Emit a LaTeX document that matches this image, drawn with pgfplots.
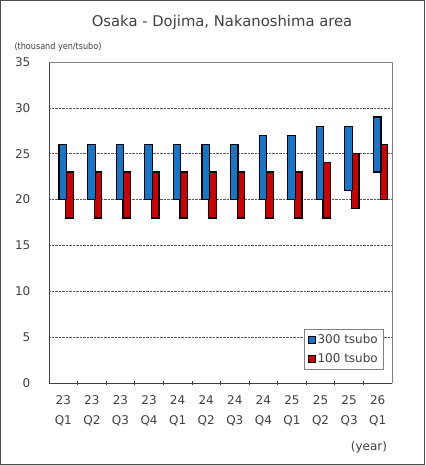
\documentclass[border=0pt]{standalone}
\usepackage{pgfplots}
\pgfplotsset{compat=1.18}
\usepackage{fontspec}
\setmainfont{DejaVu Sans}
\newfontfamily\condfont{DejaVu Sans Condensed}

\definecolor{barblue}{RGB}{24,118,200}
\definecolor{barred}{RGB}{204,0,0}
\definecolor{txt}{RGB}{64,64,64}

% lower end and length of each range bar
\pgfplotstableread{
x lo len
0 20 6
1 20 6
2 20 6
3 20 6
4 20 6
5 20 6
6 20 6
7 20 7
8 20 7
9 20 8
10 21 7
11 23 6
}\bigrooms
% red offset is measured from the top of the blue bar
\pgfplotstableread{
x off len
0 -8 5
1 -8 5
2 -8 5
3 -8 5
4 -8 5
5 -8 5
6 -8 5
7 -9 5
8 -9 5
9 -10 6
10 -9 6
11 -9 6
}\smallrooms

\begin{document}
\begin{tikzpicture}
\path[use as bounding box] (-49pt,-82pt) rectangle (376pt,383pt);
\draw[gray!60!black, line width=1.5pt] (-48.25pt,-81.25pt) rectangle (375.25pt,382.25pt);
\begin{axis}[
    scale only axis,
    width=343pt, height=321pt,
    axis lines=left,
    axis line style={-, txt, line width=0.9pt},
    ybar stacked,
    stack negative=on previous,
    bar width=7.5pt,
    xmin=-0.5, xmax=11.5,
    ymin=0, ymax=35,
    ytick={0,5,...,35},
    ytick style={draw=none},
    ymajorgrids,
    grid style={densely dotted, gray!70!black, line width=0.7pt},
    xtick={0,...,11},
    xticklabels={{23\\Q1},{23\\Q2},{23\\Q3},{23\\Q4},{24\\Q1},{24\\Q2},{24\\Q3},{24\\Q4},{25\\Q1},{25\\Q2},{25\\Q3},{26\\Q1}},
    xtick style={draw=none},
    minor xtick={0.5,1.5,...,10.5},
    minor x tick style={draw=txt, line width=0.8pt},
    minor tick length=4pt,
    /pgf/number format/assume math mode=true,
    ticklabel style={font=\fontsize{12}{20}\selectfont, text=txt},
    xticklabel style={align=center, yshift=-7pt},
    yticklabel style={xshift=-13pt},
    legend style={at={(1,0)}, anchor=south east, xshift=-9pt, yshift=14pt,
        draw=gray, font=\fontsize{12}{14}\selectfont, text=txt,
        row sep=4pt, inner xsep=3pt, inner ysep=3pt},
    legend cell align=left,
    legend image code/.code={\draw[#1, draw=black, line width=0.9pt] (0pt,-3.5pt) rectangle (7pt,3.5pt);},
    clip=false,
]
\addplot[draw=none, fill=none, bar shift=-0.5pt, forget plot] table[x=x, y=lo] {\bigrooms};
\addplot[fill=barblue, draw=black, line width=1.2pt, bar shift=-0.5pt] table[x=x, y=len] {\bigrooms};
\addlegendentry{300 tsubo}
\addplot[draw=none, fill=none, bar shift=6.2pt, forget plot] table[x=x, y=off] {\smallrooms};
\addplot[fill=barred, draw=black, line width=1.2pt, bar shift=6.2pt] table[x=x, y=len] {\smallrooms};
\addlegendentry{100 tsubo}
\draw[gray, line width=0.6pt] (rel axis cs:0,1) -- (rel axis cs:1,1) -- (rel axis cs:1,0);
\end{axis}
\node[text=txt, font=\fontsize{14.8}{16}\selectfont] at (173pt,361pt) {Osaka - Dojima, Nakanoshima area};
\node[text=txt, font=\condfont\fontsize{9}{10}\selectfont] at (9pt,336pt) {(thousand yen/tsubo)};
\node[text=txt, font=\fontsize{12}{14}\selectfont] at (320pt,-64pt) {(year)};
\end{tikzpicture}
\end{document}
